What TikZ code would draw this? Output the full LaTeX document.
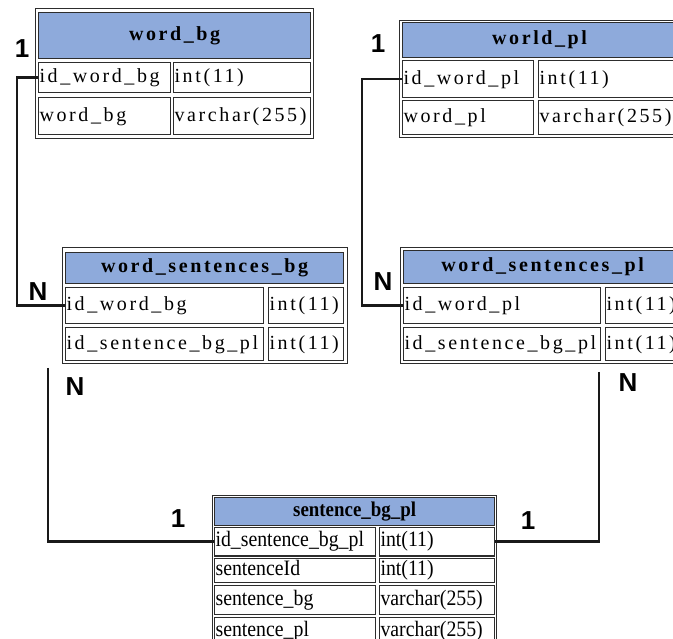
\documentclass[tikz,border=0pt]{standalone}
\usepackage{fontspec}
\setmainfont{Liberation Serif}
\newfontfamily\cellfont[LetterSpace=13]{Liberation Serif}
\newfontfamily\lowfont[FakeStretch=0.9]{Liberation Serif}
\newfontfamily\cardfont{Liberation Sans}
\definecolor{hdrblue}{RGB}{142,170,219}
\definecolor{lineg}{RGB}{45,45,45}
\definecolor{connc}{RGB}{25,25,25}
\tikzset{
  tframe/.style={draw=lineg, line width=1.3pt, fill=white, anchor=north west, inner sep=0pt},
  uhdr/.style={draw=lineg, line width=1.2pt, fill=hdrblue, anchor=north west, inner sep=0pt,
     font=\cellfont\bfseries\fontsize{20}{22}\selectfont},
  lhdr/.style={draw=lineg, line width=1.2pt, fill=hdrblue, anchor=north west, inner sep=0pt,
     font=\lowfont\bfseries\fontsize{21}{22}\selectfont},
  ucell/.style={draw=lineg, line width=1.2pt, fill=white, anchor=north west, inner xsep=1pt, inner ysep=0pt,
     align=left, font=\cellfont\fontsize{20}{22}\selectfont, text height=14pt, text depth=4pt},
  lcell/.style={draw=lineg, line width=1.1pt, fill=white, anchor=north west, inner xsep=1pt, inner ysep=0pt,
     align=left, font=\lowfont\fontsize{22}{24}\selectfont, text height=15pt, text depth=5pt},
  conn/.style={draw=connc, line width=2.8pt},
  card/.style={inner sep=0pt, font=\cardfont\bfseries\fontsize{26}{28}\selectfont},
}
\begin{document}
\begin{tikzpicture}[x=1pt, y=-1pt]
\useasboundingbox (0,0) rectangle (673,639);
\fill[white] (0,0) rectangle (673,639);
\clip (0,0) rectangle (673,639);

% ---- word_bg
\node[tframe, minimum width=278, minimum height=130] (wbg) at (35,8) {};
\node[uhdr, minimum width=272, minimum height=46] (wbg-h) at (38,12) {word\_bg};
\node[ucell, text width=130pt, minimum height=30] (wbg-r1c1) at (38,62) {id\_word\_bg};
\node[ucell, text width=135pt, minimum height=30] (wbg-r1c2) at (173,62) {int(11)};
\node[ucell, text width=130pt, minimum height=37] (wbg-r2c1) at (38,97) {word\_bg};
\node[ucell, text width=135pt, minimum height=37] (wbg-r2c2) at (173,97) {varchar(255)};

% ---- world_pl
\node[tframe, minimum width=281, minimum height=117] (wpl) at (399,20) {};
\node[uhdr, minimum width=274, minimum height=35] (wpl-h) at (402,22) {world\_pl};
\node[ucell, text width=129pt, minimum height=37] (wpl-r1c1) at (402,60) {id\_word\_pl};
\node[ucell, text width=136pt, minimum height=37] (wpl-r1c2) at (538,60) {int(11)};
\node[ucell, text width=129pt, minimum height=34] (wpl-r2c1) at (402,100) {word\_pl};
\node[ucell, text width=136pt, minimum height=34] (wpl-r2c2) at (538,100) {varchar(255)};

% ---- word_sentences_bg
\node[tframe, minimum width=285, minimum height=116] (wsbg) at (62,247) {};
\node[uhdr, minimum width=278, minimum height=31] (wsbg-h) at (65,252) {word\_sentences\_bg};
\node[ucell, text width=196pt, minimum height=36] (wsbg-r1c1) at (65,287) {id\_word\_bg};
\node[ucell, text width=73pt, minimum height=36] (wsbg-r1c2) at (268,287) {int(11)};
\node[ucell, text width=196pt, minimum height=33] (wsbg-r2c1) at (65,327) {id\_sentence\_bg\_pl};
\node[ucell, text width=73pt, minimum height=33] (wsbg-r2c2) at (268,327) {int(11)};

% ---- word_sentences_pl
\node[tframe, minimum width=285, minimum height=116] (wspl) at (400,247) {};
\node[uhdr, minimum width=278, minimum height=33] (wspl-h) at (403,250) {word\_sentences\_pl};
\node[ucell, text width=195pt, minimum height=36] (wspl-r1c1) at (403,287) {id\_word\_pl};
\node[ucell, text width=74pt, minimum height=36] (wspl-r1c2) at (605,287) {int(11)};
\node[ucell, text width=195pt, minimum height=33] (wspl-r2c1) at (403,327) {id\_sentence\_bg\_pl};
\node[ucell, text width=74pt, minimum height=33] (wspl-r2c2) at (605,327) {int(11)};

% ---- sentence_bg_pl
\node[tframe, minimum width=284, minimum height=160] (sbp) at (212,495) {};
\node[lhdr, minimum width=280, minimum height=28] (sbp-h) at (214,497) {sentence\_bg\_pl};
\node[lcell, text width=159pt, minimum height=28] (sbp-r1c1) at (214,527) {id\_sentence\_bg\_pl};
\node[lcell, text width=113pt, minimum height=28] (sbp-r1c2) at (379,527) {int(11)};
\node[lcell, text width=159pt, minimum height=24] (sbp-r2c1) at (214,558) {sentenceId};
\node[lcell, text width=113pt, minimum height=24] (sbp-r2c2) at (379,558) {int(11)};
\node[lcell, text width=159pt, minimum height=29] (sbp-r3c1) at (214,585) {sentence\_bg};
\node[lcell, text width=113pt, minimum height=29] (sbp-r3c2) at (379,585) {varchar(255)};
\node[lcell, text width=159pt, minimum height=28] (sbp-r4c1) at (214,617) {sentence\_pl};
\node[lcell, text width=113pt, minimum height=28] (sbp-r4c2) at (379,617) {varchar(255)};
\draw[draw=lineg, line width=2.4pt] (sbp-r1c1.south west) -- (sbp-r1c1.south east);
\draw[draw=lineg, line width=2.4pt] (sbp-r1c2.south west) -- (sbp-r1c2.south east);

% ---- connectors
\coordinate (lstart) at (48,368);
\coordinate (rstart) at (599,372);
\draw[conn] (wbg-r1c1.west) -- ++(-21,0) |- (wsbg-r1c1.west);
\draw[conn] (wpl-r1c1.west) -- ++(-40,0) |- (wspl-r1c1.west);
\draw[conn] (lstart) |- (sbp-r1c1.west);
\draw[conn] (rstart) |- (sbp-r1c2.east);

% ---- cardinalities
\node[card] (k1) at (22,49) {1};
\node[card] (k2) at (378,44) {1};
\node[card] (k3) at (38,292) {N};
\node[card] (k4) at (75,387) {N};
\node[card] (k5) at (383,282) {N};
\node[card] (k6) at (628,383) {N};
\node[card] (k7) at (178,519) {1};
\node[card] (k8) at (528,521) {1};
\end{tikzpicture}
\end{document}
